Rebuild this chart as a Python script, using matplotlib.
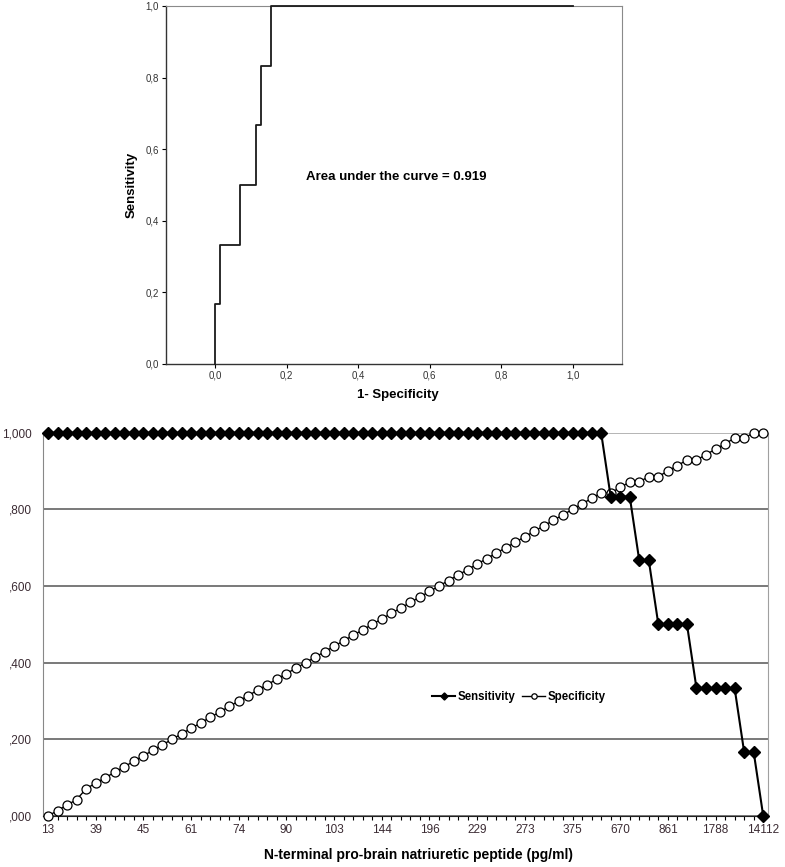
import matplotlib
matplotlib.use('Agg')
import matplotlib.pyplot as plt

plt.rcParams['font.family'] = ['Liberation Sans', 'DejaVu Sans']

# ROC curve (top panel)
roc_fpr = [0.000, 0.000, 0.014, 0.071, 0.114, 0.129, 0.157, 1.000]
roc_tpr = [0.000, 0.167, 0.333, 0.500, 0.667, 0.833, 1.000, 1.000]
roc_ticks = [0.0, 0.2, 0.4, 0.6, 0.8, 1.0]
roc_ticklabels = ['0,0', '0,2', '0,4', '0,6', '0,8', '1,0']
auc_text = 'Area under the curve = 0.919'

# sensitivity / specificity per cut-off (bottom panel)
# positives at or above the cut-off (of 6), negatives below it (of 70)
n_pos = 6
n_neg = 70
sens_n = [6] * 59 + [5, 5, 5, 4, 4, 3, 3, 3, 3, 2, 2, 2, 2, 2, 1, 1, 0]
spec_n = [0, 1, 2, 3, 5, 6, 7, 8, 9, 10, 11, 12, 13, 14, 15, 16, 17, 18, 19,
          20, 21, 22, 23, 24, 25, 26, 27, 28, 29, 30, 31, 32, 33, 34, 35, 36,
          37, 38, 39, 40, 41, 42, 43, 44, 45, 46, 47, 48, 49, 50, 51, 52, 53,
          54, 55, 56, 57, 58, 59, 59, 60, 61, 61, 62, 62, 63, 64, 65, 65, 66,
          67, 68, 69, 69, 70, 70]
cutoff_labels = ['13', '39', '45', '61', '74', '90', '103', '144', '196',
                 '229', '273', '375', '670', '861', '1788', '14112']
label_every = 5
y_ticks = [0.0, 0.2, 0.4, 0.6, 0.8, 1.0]
y_ticklabels = [',000', ',200', ',400', ',600', ',800', '1,000']

sens = [v / n_pos for v in sens_n]
spec = [v / n_neg for v in spec_n]
idx = list(range(len(sens)))

fig = plt.figure(figsize=(7.85, 8.67), dpi=100)

# ---- top: ROC curve
W, H = 785.0, 867.0
ax1 = fig.add_axes([165.7 / W, 1 - 364 / H, (622 - 165.7) / W, (364 - 6) / H])
ax1.plot(roc_fpr, roc_tpr, drawstyle='steps-post', color='#1a1a1a', lw=1.3,
         clip_on=False, zorder=3)
ax1.set_xlim(-0.138, 1.137)
ax1.set_ylim(0, 1)
ax1.set_xticks(roc_ticks)
ax1.set_xticklabels(roc_ticklabels)
ax1.set_yticks(roc_ticks)
ax1.set_yticklabels(roc_ticklabels)
ax1.tick_params(direction='out', length=3, width=0.8, labelsize=7,
                labelcolor='#333333', pad=2)
for side in ['top', 'right']:
    ax1.spines[side].set_color('#8a8a8a')
for side in ['left', 'bottom']:
    ax1.spines[side].set_color('#333333')
    ax1.spines[side].set_linewidth(1.0)
ax1.set_xlabel('1- Specificity', fontsize=9.5, fontweight='bold')
ax1.set_ylabel('Sensitivity', fontsize=9.5, fontweight='bold')
ax1.xaxis.set_label_coords(0.508, -0.07)
ax1.yaxis.set_label_coords(-0.061, 0.5)
ax1.text(0.254, 0.522, auc_text, ha='left', va='center', fontsize=9.5,
         fontweight='bold')

# ---- bottom: sensitivity and specificity by cut-off
ax2 = fig.add_axes([43.3 / W, 1 - 816 / H, (768 - 43.3) / W, (816 - 432.7) / H])
ax2.plot(idx, spec, color='black', lw=1.0, marker='o', ms=6.5,
         mfc='white', mec='black', mew=0.9, clip_on=False, zorder=3,
         label='Specificity')
ax2.plot(idx, sens, color='black', lw=1.5, marker='D', ms=6.0,
         mfc='black', mec='black', clip_on=False, zorder=4,
         label='Sensitivity')
ax2.set_xlim(-0.5, len(idx) - 0.5)
ax2.set_ylim(0, 1)
ax2.set_yticks(y_ticks)
ax2.set_yticklabels(y_ticklabels)
ax2.set_xticks(idx[::label_every])
ax2.set_xticklabels(cutoff_labels)
ax2.set_xticks(idx, minor=True)
ax2.yaxis.grid(True, color='#555555', lw=1.1)
ax2.get_ygridlines()[-1].set_color('#a0a0a0')
ax2.set_axisbelow(True)
ax2.tick_params(axis='x', which='both', direction='out', length=3, width=0.8,
                labelsize=8.5, labelcolor='#3b2b33', pad=3)
ax2.tick_params(axis='y', length=0, labelsize=8.5, labelcolor='#3b2b33', pad=8)
ax2.spines['top'].set_visible(False)
ax2.spines['right'].set_color('#a0a0a0')
ax2.spines['left'].set_color('#888888')
ax2.spines['bottom'].set_color('#222222')
ax2.set_xlabel('N-terminal pro-brain natriuretic peptide (pg/ml)',
               fontsize=10, fontweight='bold')
ax2.xaxis.set_label_coords(0.518, -0.083)

h, l = ax2.get_legend_handles_labels()
ax2.legend(h[::-1], l[::-1], loc='center', bbox_to_anchor=(0.656, 0.31),
           ncol=2, frameon=False, prop={'weight': 'bold', 'size': 8.3},
           handlelength=2.0, handletextpad=0.2, columnspacing=0.6,
           markerscale=0.6)

fig.savefig('out.png', dpi=100, facecolor='white')
